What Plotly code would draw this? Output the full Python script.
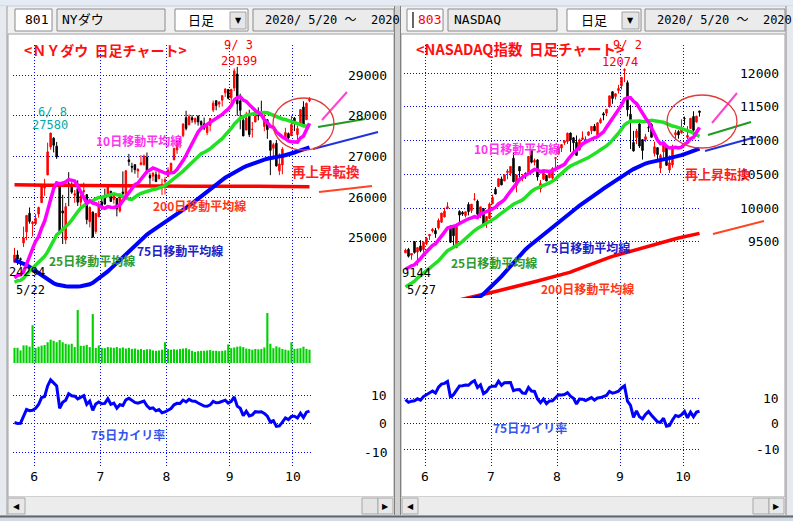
import plotly.graph_objects as go
import pandas as pd
import numpy as np

W, H = 793, 521
def PX(x): return x / W
def PY(y): return 1 - y / H

# ---------------- trading days ----------------
days_may = [20, 21, 22, 26, 27, 28, 29]
days_jun = [1, 2, 3, 4, 5, 8, 9, 10, 11, 12, 15, 16, 17, 18, 19, 22, 23, 24, 25, 26, 29, 30]
days_jul = [1, 2, 6, 7, 8, 9, 10, 13, 14, 15, 16, 17, 20, 21, 22, 23, 24, 27, 28, 29, 30, 31]
days_aug = [3, 4, 5, 6, 7, 10, 11, 12, 13, 14, 17, 18, 19, 20, 21, 24, 25, 26, 27, 28, 31]
days_sep = [1, 2, 3, 4, 8, 9, 10, 11, 14, 15, 16, 17, 18, 21, 22, 23, 24, 25, 28, 29, 30]
days_oct = [1, 2, 5, 6, 7, 8]
months = [(5, days_may), (6, days_jun), (7, days_jul), (8, days_aug), (9, days_sep), (10, days_oct)]

# ---------------- NY Dow ----------------
dow_prior_close = [23538, 24242, 23650, 23019, 23475, 23515, 23775, 24134, 24102, 24634, 24346, 23724,
                   23750, 23883, 23665, 23876, 24331, 24222, 23765, 23248, 23625, 23685, 24597, 24207]
dow_open = [24400, 24577, 24484, 24872, 25142, 25601, 25343,
            25342, 25581, 25862, 26219, 26543, 27233, 27447, 27251, 26282, 25659, 24948, 26327, 26267, 26043, 26209, 25873, 26129, 26059, 25393, 25634, 25153, 25512,
            25879, 25969, 26063, 26143, 25942, 25964, 25659, 26121, 25998, 26914, 26754, 26796, 26637, 26800, 26794, 26976, 26529, 26513, 26550, 26457, 26251, 26378,
            26505, 26646, 26913, 27157, 27317, 27511, 27950, 27779, 27950, 27844, 27986, 27856, 27797, 27588, 27758, 28138, 28370, 28285, 28381, 28562, 28643,
            28439, 28679, 29026, 28363, 27890, 27646, 28010, 27658, 27844, 28066, 28054, 27736, 27900, 27385, 27201, 27320, 26645, 26788, 27464, 27560, 27507,
            27941, 27536, 27763, 28214, 27901, 28367]
dow_high = [24749, 24689, 24513, 25272, 25548, 25743, 25414,
            25584, 25766, 26304, 26448, 27338, 27580, 27469, 27355, 26282, 26056, 25854, 26611, 26360, 26172, 26409, 26050, 26356, 26059, 25768, 25634, 25602, 25904,
            26026, 26204, 26290, 26146, 26079, 25972, 26075, 26629, 26666, 27061, 26842, 26806, 26708, 27030, 27042, 27094, 26586, 26611, 26631, 26630, 26450, 26491,
            26731, 26847, 27201, 27396, 27471, 27817, 28121, 28032, 28012, 27957, 28009, 27887, 27955, 27815, 27945, 28372, 28370, 28359, 28502, 28674, 28643,
            28659, 29162, 29199, 28540, 28017, 28095, 28148, 27847, 28180, 28204, 28368, 28052, 27916, 27391, 27334, 27401, 27075, 27225, 27702, 27587, 28000,
            27966, 27757, 28162, 28354, 28325, 28458]
dow_low = [24388, 24330, 24294, 24770, 24939, 25345, 25030,
           25306, 25493, 25862, 26030, 26543, 27164, 27096, 26937, 25082, 24843, 24843, 25774, 26079, 25858, 25780, 25710, 26075, 25329, 25253, 25001, 25098, 25512,
           25682, 25812, 26010, 25887, 25834, 25524, 25618, 26005, 25998, 26769, 26606, 26572, 26470, 26778, 26773, 26574, 26286, 26394, 26372, 26432, 26052, 26062,
           26505, 26596, 26913, 27060, 27202, 27469, 27637, 27763, 27825, 27786, 27756, 27662, 27644, 27521, 27616, 28087, 28132, 28202, 28226, 28462, 28398,
           28268, 28606, 28000, 27666, 27500, 27646, 27475, 27460, 27844, 27886, 27994, 27617, 27430, 26537, 26926, 26749, 26537, 26561, 27464, 27350, 27507,
           27620, 27396, 27763, 27716, 27901, 28336]
dow_close = [24575, 24474, 24465, 24995, 25548, 25400, 25383,
             25475, 25742, 26270, 26281, 27111, 27572, 27272, 26990, 25128, 25606, 25763, 26290, 26120, 26080, 25871, 26025, 26156, 25445, 25746, 25016, 25596, 25813,
             25735, 25827, 26287, 25890, 26067, 25706, 26075, 26086, 26643, 26870, 26735, 26672, 26681, 26840, 27005, 26652, 26470, 26584, 26379, 26540, 26314, 26428,
             26664, 26828, 27201, 27387, 27433, 27791, 27687, 27977, 27896, 27931, 27844, 27778, 27692, 27740, 27930, 28308, 28249, 28332, 28492, 28654, 28430,
             28646, 29100, 28292, 28133, 27501, 27940, 27535, 27666, 27993, 27995, 28032, 27902, 27657, 27148, 27289, 26763, 26815, 27174, 27584, 27452, 27782,
             27817, 27683, 28149, 27773, 28303, 28426]
dow_ma75 = [24450, 24425, 24400, 24365, 24330, 24280, 24230,
            24170, 24120, 24070, 24010, 23960, 23920, 23880, 23850, 23830, 23815, 23805, 23800, 23795, 23795, 23800, 23805, 23815, 23830, 23855, 23890, 23940, 23990,
            24050, 24110, 24170, 24240, 24310, 24380, 24450, 24520, 24595, 24670, 24745, 24820, 24890, 24960, 25020, 25075, 25130, 25180, 25230, 25280, 25330, 25375,
            25420, 25465, 25510, 25560, 25615, 25670, 25725, 25780, 25840, 25900, 25960, 26020, 26080, 26140, 26200, 26260, 26320, 26375, 26425, 26475, 26520,
            26565, 26610, 26650, 26690, 26725, 26760, 26790, 26820, 26850, 26875, 26900, 26920, 26940, 26960, 26975, 26990, 27000, 27010, 27025, 27045, 27070,
            27095, 27120, 27145, 27170, 27195, 27220]
dow_ma200 = [26300, 26301, 26299, 26298, 26296, 26295, 26294,
             26293, 26292, 26291, 26290, 26290, 26289, 26288, 26287, 26286, 26285, 26284, 26283, 26282, 26281, 26280, 26279, 26278, 26277, 26276, 26275, 26274, 26273,
             26272, 26271, 26270, 26269, 26268, 26267, 26266, 26265, 26264, 26263, 26262, 26261, 26260, 26259, 26258, 26258, 26257, 26257, 26256, 26256, 26255, 26255,
             26255, 26256, 26256, 26257, 26258, 26259, 26260, 26261, 26262, 26263, 26264, 26265, 26266, 26267, 26268, 26269, 26270, 26270, 26271, 26271, 26271,
             26270, 26270, 26269, 26268, 26267, 26266, 26265, 26264, 26263, 26262, 26261, 26260, 26260, 26259, 26259, 26258, 26258, 26257, 26257, 26256, 26256,
             26255, 26255, 26255, 26254, 26254, 26254]
dow_volume = [410, 410, 340, 475, 475, 440, 1020,
              405, 440, 470, 485, 560, 630, 600, 560, 620, 560, 520, 500, 520, 430, 1430, 465, 465, 490, 430, 1320, 410, 475,
              410, 400, 430, 420, 410, 430, 400, 420, 390, 410, 380, 390, 360, 380, 350, 370, 370, 340, 330, 340, 360, 560,
              380, 360, 370, 360, 380, 390, 400, 370, 330, 300, 320, 330, 330, 340, 350, 330, 330, 320, 330, 340, 500,
              400, 420, 440, 450, 430, 390, 380, 360, 380, 370, 380, 420, 1350, 520, 400, 450, 420, 380, 360, 340, 560,
              380, 390, 400, 440, 380, 360]

# ---------------- NASDAQ ----------------
nas_prior_close = [8533, 8650, 8561, 8263, 8495, 8495, 8634, 8730, 8608, 8915, 8890, 8605,
                   8710, 8810, 8854, 8979, 9121, 9192, 9002, 8863, 8943, 9015, 9235, 9185]
nas_open = [9334, 9386, 9302, 9501, 9346, 9437, 9382,
            9471, 9587, 9659, 9665, 9704, 9789, 9867, 9996, 9734, 9734, 9412, 9950, 9935, 9887, 10053, 9963, 10130, 10101, 9889, 9991, 9771, 9845,
            10063, 10279, 10321, 10432, 10402, 10528, 10515, 10740, 10332, 10614, 10445, 10513, 10533, 10859, 10681, 10714, 10284, 10428, 10484, 10450, 10445, 10738,
            10802, 10890, 10969, 10987, 11114, 11043, 10976, 10861, 11017, 11011, 11081, 11146, 11216, 11085, 11267, 11400, 11409, 11509, 11726, 11657, 11744,
            11813, 12043, 11861, 11392, 10973, 11046, 11248, 11015, 11013, 11194, 11241, 10811, 10896, 10592, 10833, 10910, 10564, 10639, 11088, 11135, 11118,
            11327, 11050, 11180, 11359, 11276, 11440]
nas_high = [9397, 9407, 9326, 9504, 9413, 9523, 9505,
            9571, 9608, 9702, 9704, 9845, 9924, 10003, 10086, 9743, 9735, 9744, 9966, 9955, 9951, 10086, 10057, 10221, 10124, 10018, 9998, 9875, 10082,
            10199, 10310, 10433, 10467, 10493, 10577, 10620, 10825, 10494, 10615, 10503, 10529, 10768, 10872, 10735, 10725, 10414, 10543, 10490, 10567, 10607, 10749,
            10923, 10946, 11002, 11121, 11119, 11055, 11077, 11031, 11138, 11064, 11139, 11210, 11248, 11273, 11340, 11424, 11466, 11666, 11731, 11704, 11829,
            11940, 12074, 11894, 11531, 11145, 11175, 11301, 11022, 11100, 11244, 11258, 10985, 10896, 10804, 10970, 10935, 10781, 10940, 11160, 11156, 11317,
            11357, 11215, 11332, 11437, 11369, 11443]
nas_low = [9334, 9266, 9233, 9322, 9144, 9344, 9338,
           9450, 9527, 9636, 9557, 9681, 9783, 9863, 9980, 9481, 9404, 9403, 9769, 9883, 9860, 9891, 9924, 10110, 9857, 9850, 9749, 9704, 9845,
           10062, 10203, 10316, 10337, 10400, 10427, 10474, 10380, 10232, 10450, 10398, 10433, 10495, 10663, 10632, 10406, 10231, 10418, 10397, 10443, 10416, 10541,
           10795, 10831, 10937, 10950, 10833, 10844, 10779, 10855, 11009, 10955, 11070, 11096, 11145, 11078, 11252, 11302, 11364, 11491, 11548, 11612, 11699,
           11759, 11870, 11361, 10875, 10837, 10949, 10892, 10720, 10982, 11127, 11048, 10765, 10701, 10519, 10719, 10626, 10520, 10600, 11011, 11028, 11103,
           11233, 11019, 11180, 11129, 11269, 11358]
nas_close = [9375, 9284, 9325, 9340, 9412, 9368, 9490,
             9552, 9608, 9683, 9616, 9815, 9925, 9953, 10020, 9493, 9589, 9726, 9895, 9910, 9943, 9946, 10056, 10131, 9909, 10017, 9757, 9874, 10059,
             10155, 10208, 10434, 10344, 10492, 10548, 10617, 10391, 10489, 10550, 10473, 10503, 10767, 10680, 10706, 10462, 10363, 10536, 10402, 10543, 10587, 10745,
             10903, 10941, 10998, 11109, 11011, 10968, 10782, 11012, 11042, 11019, 11129, 11210, 11146, 11264, 11312, 11380, 11466, 11665, 11625, 11696, 11775,
             11940, 12056, 11458, 11313, 10848, 11142, 10920, 10854, 11057, 11191, 11050, 10910, 10794, 10779, 10964, 10633, 10672, 10914, 11118, 11085, 11168,
             11326, 11076, 11332, 11154, 11364, 11420]
nas_ma75 = [8560, 8562, 8564, 8566, 8568, 8570, 8572,
            8574, 8576, 8578, 8581, 8584, 8588, 8592, 8596, 8601, 8606, 8611, 8617, 8623, 8630, 8640, 8652, 8664, 8676, 8690, 8725, 8765, 8805,
            8850, 8895, 8940, 8985, 9035, 9085, 9140, 9195, 9250, 9300, 9345, 9385, 9425, 9462, 9500, 9535, 9570, 9605, 9640, 9675, 9712, 9750,
            9788, 9826, 9862, 9898, 9932, 9966, 10000, 10034, 10068, 10100, 10132, 10163, 10194, 10225, 10256, 10287, 10318, 10349, 10380, 10410, 10440,
            10468, 10496, 10524, 10552, 10578, 10602, 10624, 10644, 10660, 10674, 10686, 10696, 10705, 10714, 10722, 10730, 10738, 10748, 10760, 10772, 10785,
            10800, 10815, 10830, 10846, 10862, 10880]
nas_ma200 = [8450, 8460, 8470, 8480, 8490, 8500, 8510,
             8520, 8530, 8540, 8550, 8560, 8570, 8580, 8590, 8600, 8610, 8620, 8630, 8641, 8652, 8662, 8673, 8684, 8695, 8706, 8717, 8728, 8739,
             8750, 8761, 8772, 8782, 8793, 8804, 8816, 8827, 8838, 8849, 8860, 8872, 8884, 8895, 8906, 8917, 8928, 8939, 8951, 8962, 8973, 8985,
             8997, 9008, 9020, 9030, 9048, 9066, 9084, 9102, 9120, 9138, 9156, 9174, 9192, 9210, 9228, 9241, 9255, 9268, 9282, 9295, 9309,
             9322, 9336, 9349, 9363, 9376, 9388, 9401, 9413, 9426, 9438, 9451, 9463, 9476, 9488, 9501, 9513, 9525, 9534, 9544, 9554, 9564,
             9574, 9584, 9594, 9604, 9614, 9624]

# ---------------- labels ----------------
dow_price_ticks = [25000, 26000, 27000, 28000, 29000]
nas_price_ticks = [9500, 10000, 10500, 11000, 11500, 12000]
dev_ticks = [-10, 0, 10]

# ---------------- derived ----------------
n = len(dow_close)
idx = list(range(n))
month_of = [m for m, ds in months for d in ds]
month_tickvals = [i - 0.5 for i in range(1, n) if month_of[i] != month_of[i - 1]]
month_ticktext = [str(month_of[i]) for i in range(1, n) if month_of[i] != month_of[i - 1]]

def ma(prior, close, w):
    s = pd.Series(prior + close, dtype=float).rolling(w).mean()
    return s.iloc[len(prior):].tolist()

dow_ma10, dow_ma25 = ma(dow_prior_close, dow_close, 10), ma(dow_prior_close, dow_close, 25)
nas_ma10, nas_ma25 = ma(nas_prior_close, nas_close, 10), ma(nas_prior_close, nas_close, 25)
dow_dev = ((np.array(dow_close) - np.array(dow_ma75)) / np.array(dow_ma75) * 100).tolist()
nas_dev = ((np.array(nas_close) - np.array(nas_ma75)) / np.array(nas_ma75) * 100).tolist()

# ---------------- figure ----------------
fig = go.Figure()
C_MA10, C_MA25, C_MA75, C_MA200 = '#FF00FF', '#22E022', '#0000FF', '#FF0000'

def add_panel(xa, ya, o, h, l, c, m10, m25, m75, m200):
    fig.add_trace(go.Candlestick(
        x=idx, open=o, high=h, low=l, close=c, xaxis=xa, yaxis=ya,
        increasing=dict(line=dict(color='#FF0000', width=1), fillcolor='#FF0000'),
        decreasing=dict(line=dict(color='#000000', width=1), fillcolor='#000000'),
        whiskerwidth=0, showlegend=False, hoverinfo='skip'))
    for vals, col, wd in ((m200, C_MA200, 3.5), (m75, C_MA75, 4), (m25, C_MA25, 3.5), (m10, C_MA10, 3.5)):
        fig.add_trace(go.Scatter(x=idx, y=vals, mode='lines', line=dict(color=col, width=wd),
                                 xaxis=xa, yaxis=ya, showlegend=False, hoverinfo='skip'))

add_panel('x', 'y', dow_open, dow_high, dow_low, dow_close, dow_ma10, dow_ma25, dow_ma75, dow_ma200)
fig.add_trace(go.Bar(x=idx, y=dow_volume, marker=dict(color='#00D000', line=dict(width=0)),
                     xaxis='x2', yaxis='y2', showlegend=False, hoverinfo='skip'))
fig.add_trace(go.Scatter(x=idx, y=dow_dev, mode='lines', line=dict(color='#0000FF', width=3),
                         xaxis='x3', yaxis='y3', showlegend=False, hoverinfo='skip'))

add_panel('x4', 'y4', nas_open, nas_high, nas_low, nas_close, nas_ma10, nas_ma25, nas_ma75, nas_ma200)
fig.add_trace(go.Scatter(x=[None], y=[None], xaxis='x5', yaxis='y5', showlegend=False, hoverinfo='skip'))
fig.add_trace(go.Scatter(x=idx, y=nas_dev, mode='lines', line=dict(color='#0000FF', width=3),
                         xaxis='x6', yaxis='y6', showlegend=False, hoverinfo='skip'))

GRID = dict(showgrid=True, gridcolor='#0000FF', gridwidth=1, griddash='1px,2px',
            zeroline=False, showline=False, ticks='', fixedrange=True)
TICKFONT = dict(family='DejaVu Sans Mono', size=13, color='#000000')

def xax(dom, anchor, labels, match=None):
    d = dict(GRID, domain=[PX(dom[0]), PX(dom[1])], anchor=anchor, range=[-0.5, n - 0.5],
             tickmode='array', tickvals=month_tickvals, ticktext=month_ticktext,
             showticklabels=labels, tickfont=TICKFONT, rangeslider=dict(visible=False))
    if match:
        d['matches'] = match
    return d

def yax(top, bot, anchor, rng, ticks):
    d = dict(GRID, domain=[PY(bot), PY(top)], anchor=anchor, range=rng, showticklabels=False)
    if ticks:
        d.update(tickmode='array', tickvals=ticks)
    else:
        d.update(showgrid=False)
    return d

LX = (13, 311)
RX = (404, 701)
layout = dict(
    width=W, height=H, autosize=False, margin=dict(l=0, r=0, t=0, b=0, pad=0),
    paper_bgcolor='#F0F0F0', plot_bgcolor='rgba(0,0,0,0)', bargap=0.3,
    showlegend=False, hovermode=False, dragmode=False,
    xaxis=xax(LX, 'y', False), xaxis2=xax(LX, 'y2', False, 'x'), xaxis3=xax(LX, 'y3', True, 'x'),
    yaxis=yax(45, 300, 'x', [23468, 29738], dow_price_ticks),
    yaxis2=yax(300, 363, 'x2', [0, 1700], None),
    yaxis3=yax(363, 467, 'x3', [-14.9, 21.1], dev_ticks),
    xaxis4=xax(RX, 'y4', False), xaxis5=xax(RX, 'y5', False, 'x4'), xaxis6=xax(RX, 'y6', True, 'x4'),
    yaxis4=yax(45, 298, 'x4', [8664, 12420], nas_price_ticks),
    yaxis5=yax(298, 363, 'x5', [0, 1], None),
    yaxis6=yax(363, 467, 'x6', [-16.8, 23.8], dev_ticks),
)
fig.update_layout(**layout)

# ---------------- chrome shapes ----------------
shapes = []
def rect(x0, y0, x1, y1, fill, line=None, lw=1, layer='below'):
    shapes.append(dict(type='rect', xref='paper', yref='paper', x0=PX(x0), x1=PX(x1), y0=PY(y1), y1=PY(y0),
                       fillcolor=fill, line=dict(color=line or fill, width=lw if line else 0), layer=layer))
def seg(x0, y0, x1, y1, color, w=1, layer='below', dash=None):
    shapes.append(dict(type='line', xref='paper', yref='paper', x0=PX(x0), x1=PX(x1), y0=PY(y0), y1=PY(y1),
                       line=dict(color=color, width=w, dash=dash), layer=layer))
def ellipse(x0, y0, x1, y1, color):
    shapes.append(dict(type='circle', xref='paper', yref='paper', x0=PX(x0), x1=PX(x1), y0=PY(y1), y1=PY(y0),
                       line=dict(color=color, width=1.3), layer='above'))

rect(0, 0, W, 6, '#E4EBF4')
seg(0, 6, W, 6, '#C4CCD6')
rect(0, 6, 7, H, '#E6E9EE')
seg(7, 6, 7, 517, '#9A9A9A')
# white chart areas
rect(8, 34, 394, 497, '#FFFFFF', '#A0A0A0')
rect(401, 34, 785, 497, '#FFFFFF', '#A0A0A0')
# divider
rect(394, 6, 401, 517, '#D0D0D0')
seg(394.5, 6, 394.5, 517, '#808080')
seg(400.5, 6, 400.5, 517, '#808080')
# right edge
rect(785, 6, W, 517, '#E6E9EE')
seg(786, 6, 786, 517, '#8A8A8A')
# scrollbars
for (a, b) in ((8, 394), (401, 785)):
    rect(a, 497, b, 515, '#ECECEC')
rect(8, 498, 25, 514, '#E8E8E8', '#A8A8A8')
rect(362, 498, 378, 514, '#E4E4E4', '#A8A8A8')
rect(378, 498, 393, 514, '#E8E8E8', '#A8A8A8')
rect(402, 498, 418, 514, '#E8E8E8', '#A8A8A8')
rect(753, 498, 769, 514, '#E4E4E4', '#A8A8A8')
rect(769, 498, 784, 514, '#E8E8E8', '#A8A8A8')
# bottom frame
rect(0, 515, W, H, '#D3DAE3')
seg(0, 516.5, W, 516.5, '#5E6670', 2)
# header boxes
rect(15, 9, 52, 31, '#FFFFFF', '#8A8A8A')
rect(57, 9, 165, 31, '#EBEBEB', '#8A8A8A')
rect(175, 9, 248, 31, '#FFFFFF', '#8A8A8A')
rect(230, 12, 246, 29, '#E6E6E6', '#A0A0A0')
rect(253, 9, 394, 31, '#EBEBEB', '#8A8A8A')
rect(407, 9, 443, 31, '#FFFFFF', '#8A8A8A')
seg(413, 12, 413, 28, '#000000', 1.2)
rect(448, 9, 557, 31, '#EBEBEB', '#8A8A8A')
rect(567, 9, 641, 31, '#FFFFFF', '#8A8A8A')
rect(622, 12, 639, 29, '#E6E6E6', '#A0A0A0')
rect(645, 9, 785, 31, '#EBEBEB', '#8A8A8A')

# hand-drawn marks
seg(322, 120, 347, 92, '#FF44CC', 2, 'above')
seg(318, 127, 365, 119, '#229922', 2, 'above')
seg(313, 149, 378, 132, '#2233DD', 2, 'above')
seg(319, 192, 372, 186, '#FF4422', 2, 'above')
ellipse(273, 98, 334, 150, '#E03A3A')
seg(712, 123, 737, 93, '#FF44CC', 2, 'above')
seg(708, 135, 751, 122, '#229922', 2, 'above')
seg(705, 151, 756, 137, '#2233DD', 2, 'above')
seg(713, 234, 764, 221, '#FF4422', 2, 'above')
ellipse(667, 95, 737, 148, '#E03A3A')

# ---------------- annotations ----------------
ann = []
JP = 'Noto Sans CJK JP'
def txt(x, y, s, size=13, color='#000000', family='DejaVu Sans Mono', xa='center', bold=False):
    ann.append(dict(xref='paper', yref='paper', x=PX(x), y=PY(y), text=('<b>%s</b>' % s) if bold else s,
                    showarrow=False, xanchor=xa, yanchor='middle',
                    font=dict(family=family, size=size, color=color)))
def ytick(xr, yref, v):
    ann.append(dict(xref='paper', yref=yref, x=PX(xr), y=v, text=str(v), showarrow=False,
                    xanchor='right', yanchor='middle', font=TICKFONT))

for v in dow_price_ticks:
    ytick(389, 'y', v)
for v in dev_ticks:
    ytick(389, 'y3', v)
for v in nas_price_ticks:
    ytick(781, 'y4', v)
for v in dev_ticks:
    ytick(781, 'y6', v)

MONO_JP = 'DejaVu Sans Mono, Noto Sans CJK JP'
# header
txt(36, 20, '801', 13, '#000000', MONO_JP)
txt(60, 20, 'NYダウ', 13, '#000000', MONO_JP, 'left')
txt(201, 20, '日足', 13, '#000000', JP)
txt(238, 20.5, '▼', 8, '#000000', 'DejaVu Sans')
txt(263, 20, '2020/ 5/20 ～  2020', 12, '#000000', MONO_JP, 'left')
txt(429, 20, '803', 13, '#FF0000', MONO_JP)
txt(452, 20, 'NASDAQ', 13, '#000000', MONO_JP, 'left')
txt(594, 20, '日足', 13, '#000000', JP)
txt(630.5, 20.5, '▼', 8, '#000000', 'DejaVu Sans')
txt(655, 20, '2020/ 5/20 ～  2020', 12, '#000000', MONO_JP, 'left')
# scroll arrows
for x, s in ((16.5, '◀'), (385.5, '▶'), (410, '◀'), (776.5, '▶')):
    txt(x, 506, s, 8, '#000000', 'DejaVu Sans')

# price annotations
txt(238, 45.5, '9/ 3', 12, '#FF0000', MONO_JP)
txt(239, 60.5, '29199', 12, '#FF0000', MONO_JP)
txt(52, 112, '6/ 8', 12, '#00AAAA', MONO_JP)
txt(50, 125, '27580', 12, '#00AAAA', MONO_JP)
txt(27, 272, '24294', 12, '#000000', MONO_JP)
txt(30, 290, '5/22', 12, '#000000', MONO_JP)
txt(627, 44.5, '9/ 2', 12, '#FF0000', MONO_JP)
txt(620, 61.5, '12074', 12, '#FF0000', MONO_JP)
txt(416, 273, '9144', 12, '#000000', MONO_JP)
txt(421, 290, '5/27', 12, '#000000', MONO_JP)

# titles
txt(22, 50, '<ＮＹダウ  日足チャート>', 14, '#FF1010', JP, 'left', True)
txt(414, 49, '<NASADAQ指数  日足チャート>', 14.5, '#FF1010', JP, 'left', True)

# series labels
LB = 12
txt(139, 140, '10日移動平均線', LB, '#FF33EE', JP, bold=True)
txt(92, 260, '25日移動平均線', LB, '#2E9A2E', JP, bold=True)
txt(180, 250, '75日移動平均線', LB, '#2020C8', JP, bold=True)
txt(199, 205, '200日移動平均線', LB, '#FF3818', JP, bold=True)
txt(326, 171, '再上昇転換', 13.5, '#FF2020', JP, bold=True)
txt(128, 434, '75日カイリ率', LB, '#3355EE', JP, bold=True)
txt(517, 149, '10日移動平均線', LB, '#FF33EE', JP, bold=True)
txt(494, 262, '25日移動平均線', LB, '#2E9A2E', JP, bold=True)
txt(587, 247, '75日移動平均線', LB, '#2020C8', JP, bold=True)
txt(587, 288, '200日移動平均線', LB, '#FF3818', JP, bold=True)
txt(717, 173, '再上昇転換', 13, '#FF2020', JP, bold=True)
txt(530, 427, '75日カイリ率', LB, '#3355EE', JP, bold=True)

fig.update_layout(shapes=shapes, annotations=ann)
fig.write_html("out.html", config=dict(displayModeBar=False, staticPlot=True),
               post_script="document.body.style.margin='0px';document.body.style.overflow='hidden';")
